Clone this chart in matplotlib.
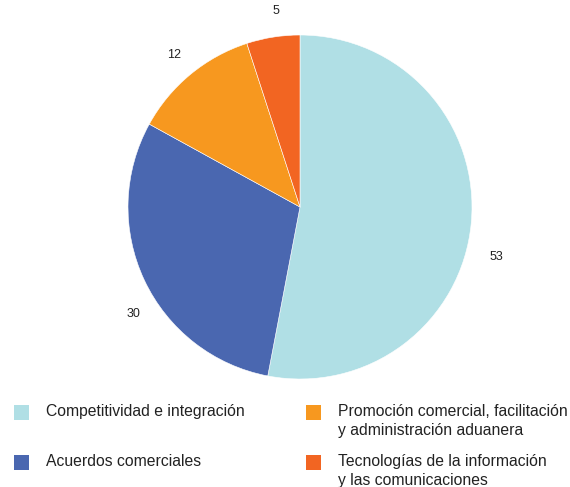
import numpy as np
import matplotlib
matplotlib.use("Agg")
import matplotlib.pyplot as plt
from matplotlib.patches import Rectangle

categories = ["Competitividad e integración",
              "Acuerdos comerciales",
              "Promoción comercial, facilitación\ny administración aduanera",
              "Tecnologías de la información\ny las comunicaciones"]
values = [53, 30, 12, 5]
colors = ["#B0DFE5", "#4A67B0", "#F7981F", "#F26522"]

plt.rcParams['font.family'] = ['Liberation Sans', 'DejaVu Sans']

W, H = 570, 487
fig = plt.figure(figsize=(W / 100, H / 100), dpi=100)
ax = fig.add_axes([0, 0, 1, 1])
R = 172.0
cx, cy = 300.0, 207.0

wedges, texts = ax.pie(values, colors=colors, startangle=90, counterclock=False,
                       labels=[str(v) for v in values], labeldistance=1.14,
                       wedgeprops=dict(edgecolor='white', linewidth=0.4),
                       textprops=dict(fontsize=9, color='#222222'))
ax.set_xlim(-cx / R, (W - cx) / R)
ax.set_ylim(-(H - cy) / R, cy / R)
ax.set_aspect('equal')
ax.axis('off')

# nudge labels slightly along the arc, as in the reference
offsets = [-9, 7.5, 0, -2]
dists = [1.18, 1.15, 1.15, 1.15]
for t, w, off, d in zip(texts, wedges, offsets, dists):
    ang = np.deg2rad((w.theta1 + w.theta2) / 2 + off)
    t.set_position((d * np.cos(ang), d * np.sin(ang)))
    t.set_ha('center')
    t.set_va('center')

# legend drawn manually in pixel layout
col_x = [14, 306]
row_y = [412, 462]
for i in range(len(categories)):
    col = 0 if i in (0, 1) else 1
    row = 0 if i in (0, 2) else 1
    x0 = col_x[col]
    y0 = row_y[row]
    fig.patches.append(Rectangle((x0 / W, 1 - (y0 + 7.5) / H), 15 / W, 15 / H,
                                 transform=fig.transFigure, facecolor=colors[i],
                                 edgecolor='none'))
    fig.text((x0 + 32) / W, 1 - (y0 - 8) / H, categories[i], fontsize=11.3,
             color='#222222', va='top', ha='left', linespacing=1.35)

fig.savefig("out.png", dpi=100)
